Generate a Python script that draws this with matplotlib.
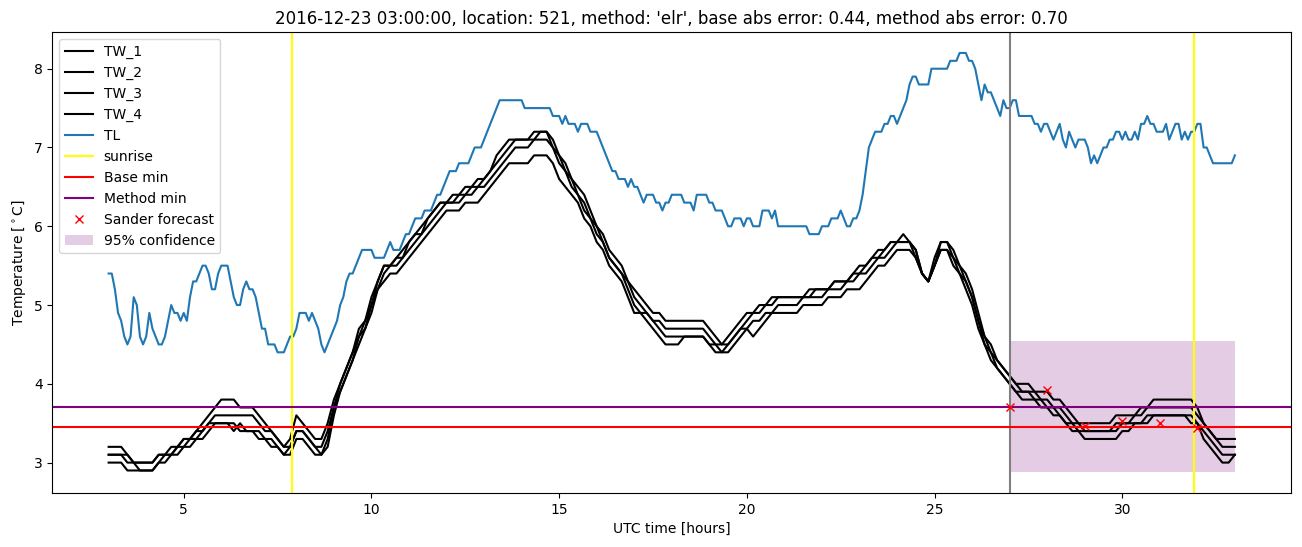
import numpy as np
import matplotlib.pyplot as plt

# air temperature TL, 5-minute steps from 03:00
tl = [5.4, 5.4, 5.2, 4.9, 4.8, 4.6, 4.5, 4.6, 5.1, 5.0,
      4.6, 4.5, 4.6, 4.9, 4.7, 4.6, 4.5, 4.5, 4.6, 4.8,
      5.0, 4.9, 4.9, 4.8, 4.9, 4.8, 5.1, 5.3, 5.3, 5.4,
      5.5, 5.5, 5.4, 5.2, 5.2, 5.4, 5.5, 5.5, 5.5, 5.3,
      5.1, 5.0, 5.0, 5.2, 5.3, 5.2, 5.2, 5.1, 4.9, 4.7,
      4.7, 4.5, 4.5, 4.5, 4.4, 4.4, 4.4, 4.5, 4.6, 4.6,
      4.7, 4.9, 4.9, 4.9, 4.8, 4.9, 4.8, 4.7, 4.5, 4.4,
      4.5, 4.6, 4.7, 4.8, 5.0, 5.1, 5.3, 5.4, 5.4, 5.5,
      5.6, 5.7, 5.7, 5.7, 5.7, 5.6, 5.6, 5.6, 5.6, 5.7,
      5.8, 5.7, 5.7, 5.7, 5.8, 5.9, 5.9, 6.0, 6.1, 6.1,
      6.1, 6.2, 6.2, 6.2, 6.3, 6.4, 6.4, 6.5, 6.6, 6.7,
      6.7, 6.7, 6.8, 6.8, 6.8, 6.8, 6.9, 7.0, 7.0, 7.0,
      7.1, 7.2, 7.3, 7.4, 7.5, 7.6, 7.6, 7.6, 7.6, 7.6,
      7.6, 7.6, 7.6, 7.5, 7.5, 7.5, 7.5, 7.5, 7.5, 7.5,
      7.5, 7.5, 7.4, 7.4, 7.4, 7.3, 7.4, 7.3, 7.3, 7.3,
      7.2, 7.3, 7.3, 7.3, 7.2, 7.2, 7.2, 7.1, 7.0, 6.9,
      6.8, 6.7, 6.7, 6.6, 6.6, 6.6, 6.5, 6.6, 6.5, 6.5,
      6.4, 6.3, 6.4, 6.4, 6.4, 6.3, 6.3, 6.2, 6.3, 6.3,
      6.4, 6.4, 6.4, 6.4, 6.3, 6.3, 6.3, 6.2, 6.4, 6.4,
      6.4, 6.4, 6.3, 6.3, 6.2, 6.2, 6.2, 6.1, 6.0, 6.0,
      6.1, 6.1, 6.1, 6.0, 6.1, 6.1, 6.0, 6.0, 6.0, 6.2,
      6.2, 6.2, 6.1, 6.2, 6.0, 6.0, 6.0, 6.0, 6.0, 6.0,
      6.0, 6.0, 6.0, 6.0, 5.9, 5.9, 5.9, 5.9, 6.0, 6.0,
      6.0, 6.1, 6.1, 6.1, 6.2, 6.1, 6.0, 6.0, 6.1, 6.1,
      6.2, 6.4, 6.7, 7.0, 7.1, 7.2, 7.2, 7.2, 7.3, 7.3,
      7.4, 7.4, 7.3, 7.4, 7.5, 7.6, 7.8, 7.9, 7.9, 7.8,
      7.8, 7.8, 7.8, 8.0, 8.0, 8.0, 8.0, 8.0, 8.0, 8.1,
      8.1, 8.1, 8.2, 8.2, 8.2, 8.1, 8.1, 8.0, 7.8, 7.6,
      7.8, 7.7, 7.7, 7.6, 7.5, 7.4, 7.6, 7.5, 7.5, 7.6,
      7.6, 7.4, 7.4, 7.4, 7.4, 7.4, 7.3, 7.3, 7.2, 7.3,
      7.3, 7.2, 7.1, 7.2, 7.3, 7.1, 7.0, 7.2, 7.1, 7.0,
      7.1, 7.1, 7.1, 7.0, 6.8, 6.9, 6.8, 6.9, 7.0, 7.0,
      7.1, 7.1, 7.2, 7.2, 7.1, 7.2, 7.1, 7.1, 7.2, 7.1,
      7.3, 7.3, 7.4, 7.3, 7.3, 7.2, 7.2, 7.2, 7.3, 7.1,
      7.2, 7.3, 7.3, 7.1, 7.2, 7.1, 7.2, 7.2, 7.3, 7.3,
      7.0, 7.0, 6.9, 6.8, 6.8, 6.8, 6.8, 6.8, 6.8, 6.8,
      6.9]

# road surface sensors TW_1..TW_4, 10-minute steps from 03:00
tw_1 = [3.2, 3.2, 3.2, 3.1, 3.0, 3.0, 3.0, 3.0, 3.1, 3.1,
        3.2, 3.2, 3.3, 3.3, 3.4, 3.5, 3.6, 3.7, 3.8, 3.8,
        3.8, 3.7, 3.7, 3.7, 3.6, 3.5, 3.4, 3.3, 3.2, 3.3,
        3.6, 3.5, 3.4, 3.3, 3.3, 3.5, 3.8, 4.0, 4.2, 4.4,
        4.7, 4.8, 5.1, 5.3, 5.5, 5.5, 5.6, 5.7, 5.8, 5.9,
        6.0, 6.1, 6.2, 6.3, 6.3, 6.4, 6.4, 6.5, 6.5, 6.6,
        6.6, 6.7, 6.9, 7.0, 7.1, 7.1, 7.1, 7.1, 7.2, 7.2,
        7.2, 7.1, 6.9, 6.8, 6.6, 6.5, 6.4, 6.2, 6.0, 5.9,
        5.7, 5.6, 5.5, 5.3, 5.2, 5.1, 5.0, 4.9, 4.9, 4.8,
        4.8, 4.8, 4.8, 4.8, 4.8, 4.8, 4.7, 4.6, 4.5, 4.6,
        4.7, 4.8, 4.9, 4.9, 5.0, 5.0, 5.1, 5.1, 5.1, 5.1,
        5.1, 5.1, 5.2, 5.2, 5.2, 5.2, 5.3, 5.3, 5.3, 5.4,
        5.5, 5.5, 5.6, 5.7, 5.7, 5.8, 5.8, 5.9, 5.8, 5.7,
        5.4, 5.3, 5.6, 5.8, 5.8, 5.7, 5.5, 5.4, 5.2, 4.9,
        4.6, 4.5, 4.3, 4.2, 4.1, 4.0, 4.0, 4.0, 3.9, 3.9,
        3.9, 3.8, 3.8, 3.7, 3.6, 3.5, 3.5, 3.5, 3.5, 3.5,
        3.5, 3.6, 3.6, 3.6, 3.6, 3.7, 3.7, 3.8, 3.8, 3.8,
        3.8, 3.8, 3.8, 3.8, 3.7, 3.5, 3.4, 3.3, 3.3, 3.3,
        3.3]
tw_2 = [3.1, 3.1, 3.1, 3.1, 3.0, 3.0, 3.0, 3.0, 3.1, 3.1,
        3.1, 3.2, 3.3, 3.3, 3.4, 3.4, 3.5, 3.6, 3.6, 3.6,
        3.6, 3.6, 3.6, 3.6, 3.5, 3.4, 3.4, 3.3, 3.2, 3.2,
        3.4, 3.4, 3.3, 3.2, 3.2, 3.4, 3.7, 4.0, 4.2, 4.4,
        4.6, 4.8, 5.0, 5.3, 5.5, 5.5, 5.6, 5.6, 5.8, 5.9,
        5.9, 6.1, 6.2, 6.3, 6.3, 6.3, 6.4, 6.4, 6.5, 6.5,
        6.6, 6.7, 6.8, 6.9, 7.0, 7.1, 7.1, 7.1, 7.1, 7.2,
        7.2, 7.0, 6.9, 6.7, 6.6, 6.4, 6.3, 6.1, 6.0, 5.8,
        5.6, 5.5, 5.4, 5.3, 5.1, 5.0, 4.9, 4.8, 4.8, 4.7,
        4.7, 4.7, 4.7, 4.7, 4.7, 4.7, 4.6, 4.5, 4.5, 4.5,
        4.6, 4.7, 4.8, 4.9, 4.9, 5.0, 5.0, 5.1, 5.1, 5.1,
        5.1, 5.1, 5.1, 5.2, 5.2, 5.2, 5.3, 5.3, 5.3, 5.4,
        5.4, 5.5, 5.6, 5.6, 5.7, 5.8, 5.8, 5.8, 5.8, 5.7,
        5.4, 5.3, 5.5, 5.8, 5.8, 5.6, 5.5, 5.3, 5.1, 4.8,
        4.6, 4.4, 4.3, 4.2, 4.1, 4.0, 3.9, 3.9, 3.9, 3.8,
        3.8, 3.7, 3.7, 3.6, 3.5, 3.5, 3.4, 3.4, 3.4, 3.4,
        3.4, 3.5, 3.5, 3.5, 3.6, 3.6, 3.7, 3.7, 3.7, 3.7,
        3.7, 3.7, 3.7, 3.7, 3.6, 3.5, 3.4, 3.3, 3.2, 3.2,
        3.2]
tw_3 = [3.1, 3.1, 3.1, 3.0, 3.0, 2.9, 2.9, 2.9, 3.0, 3.1,
        3.1, 3.2, 3.2, 3.3, 3.3, 3.4, 3.5, 3.5, 3.5, 3.5,
        3.4, 3.5, 3.4, 3.4, 3.4, 3.3, 3.3, 3.2, 3.1, 3.2,
        3.4, 3.4, 3.3, 3.2, 3.1, 3.3, 3.7, 3.9, 4.1, 4.3,
        4.6, 4.7, 5.0, 5.2, 5.4, 5.5, 5.5, 5.6, 5.7, 5.8,
        5.9, 6.0, 6.1, 6.2, 6.3, 6.3, 6.3, 6.4, 6.4, 6.5,
        6.5, 6.6, 6.7, 6.8, 6.9, 7.0, 7.0, 7.0, 7.1, 7.1,
        7.1, 7.0, 6.8, 6.7, 6.5, 6.4, 6.2, 6.1, 5.9, 5.8,
        5.6, 5.5, 5.4, 5.2, 5.0, 4.9, 4.9, 4.8, 4.7, 4.6,
        4.6, 4.6, 4.6, 4.6, 4.6, 4.6, 4.5, 4.5, 4.4, 4.5,
        4.6, 4.7, 4.7, 4.8, 4.8, 4.9, 4.9, 5.0, 5.0, 5.0,
        5.0, 5.1, 5.1, 5.1, 5.1, 5.2, 5.2, 5.2, 5.3, 5.3,
        5.4, 5.4, 5.5, 5.6, 5.6, 5.7, 5.8, 5.8, 5.8, 5.6,
        5.4, 5.3, 5.5, 5.7, 5.7, 5.6, 5.4, 5.3, 5.1, 4.8,
        4.5, 4.4, 4.2, 4.1, 4.0, 3.9, 3.9, 3.9, 3.8, 3.8,
        3.7, 3.7, 3.6, 3.5, 3.5, 3.4, 3.4, 3.4, 3.4, 3.4,
        3.4, 3.4, 3.5, 3.5, 3.5, 3.5, 3.6, 3.6, 3.6, 3.6,
        3.6, 3.6, 3.6, 3.6, 3.5, 3.4, 3.3, 3.2, 3.1, 3.1,
        3.1]
tw_4 = [3.0, 3.0, 3.0, 2.9, 2.9, 2.9, 2.9, 2.9, 3.0, 3.0,
        3.1, 3.1, 3.2, 3.2, 3.3, 3.3, 3.4, 3.5, 3.5, 3.5,
        3.5, 3.4, 3.4, 3.4, 3.3, 3.3, 3.2, 3.2, 3.1, 3.1,
        3.3, 3.3, 3.2, 3.1, 3.1, 3.2, 3.6, 3.9, 4.1, 4.3,
        4.5, 4.7, 4.9, 5.2, 5.3, 5.4, 5.4, 5.5, 5.6, 5.7,
        5.8, 5.9, 6.0, 6.1, 6.2, 6.2, 6.2, 6.3, 6.3, 6.3,
        6.4, 6.5, 6.6, 6.7, 6.8, 6.8, 6.8, 6.8, 6.9, 6.9,
        6.9, 6.8, 6.6, 6.5, 6.4, 6.3, 6.1, 6.0, 5.8, 5.7,
        5.5, 5.4, 5.3, 5.1, 4.9, 4.9, 4.8, 4.7, 4.6, 4.5,
        4.5, 4.5, 4.6, 4.6, 4.6, 4.6, 4.5, 4.4, 4.4, 4.4,
        4.5, 4.6, 4.7, 4.6, 4.7, 4.8, 4.9, 4.9, 4.9, 4.9,
        4.9, 5.0, 5.0, 5.0, 5.0, 5.1, 5.1, 5.1, 5.2, 5.2,
        5.2, 5.3, 5.4, 5.5, 5.5, 5.6, 5.7, 5.7, 5.7, 5.6,
        5.4, 5.3, 5.5, 5.7, 5.7, 5.5, 5.4, 5.2, 5.0, 4.7,
        4.5, 4.3, 4.2, 4.1, 4.0, 3.9, 3.8, 3.8, 3.8, 3.7,
        3.7, 3.6, 3.6, 3.5, 3.4, 3.4, 3.3, 3.3, 3.3, 3.3,
        3.3, 3.3, 3.4, 3.4, 3.5, 3.5, 3.5, 3.6, 3.6, 3.6,
        3.6, 3.6, 3.6, 3.5, 3.5, 3.3, 3.2, 3.1, 3.0, 3.0,
        3.1]

start_hour = 3
sunrise = [7.88, 31.9]
forecast_start = 27
forecast_hours = [27, 28, 29, 30, 31, 32]
forecast = [3.71, 3.92, 3.46, 3.53, 3.50, 3.44]
conf_hours = [27, 33]
conf_low = 2.88
conf_high = 4.54
base_min = 3.45
method_min = 3.70

title = "2016-12-23 03:00:00, location: 521, method: 'elr', base abs error: 0.44, method abs error: 0.70"

t_tl = start_hour + np.arange(len(tl)) / 12
t_tw = start_hour + np.arange(len(tw_1)) / 6

fig, ax = plt.subplots(figsize=(13.02, 5.47), dpi=100)
fig.subplots_adjust(left=0.0402, right=0.9917, top=0.9415, bottom=0.0987)

for name, vals in [('TW_1', tw_1), ('TW_2', tw_2), ('TW_3', tw_3), ('TW_4', tw_4)]:
    ax.plot(t_tw, vals, color='black', label=name)
ax.plot(t_tl, tl, color='tab:blue', label='TL')

for i, s in enumerate(sunrise):
    ax.axvline(s, color='yellow', label='sunrise' if i == 0 else None)
ax.axvline(forecast_start, color='gray')
ax.axhline(base_min, color='red', label='Base min')
ax.axhline(method_min, color='purple', label='Method min')
ax.plot(forecast_hours, forecast, 'rx', label='Sander forecast')
ax.fill_between(conf_hours, conf_low, conf_high, color='purple', alpha=0.2,
                linewidth=0, label='95% confidence')

ax.set_title(title)
ax.set_xlabel('UTC time [hours]')
ax.set_ylabel('Temperature [$^\\circ$C]')
ax.legend(loc='upper left')

fig.savefig('out.png')
